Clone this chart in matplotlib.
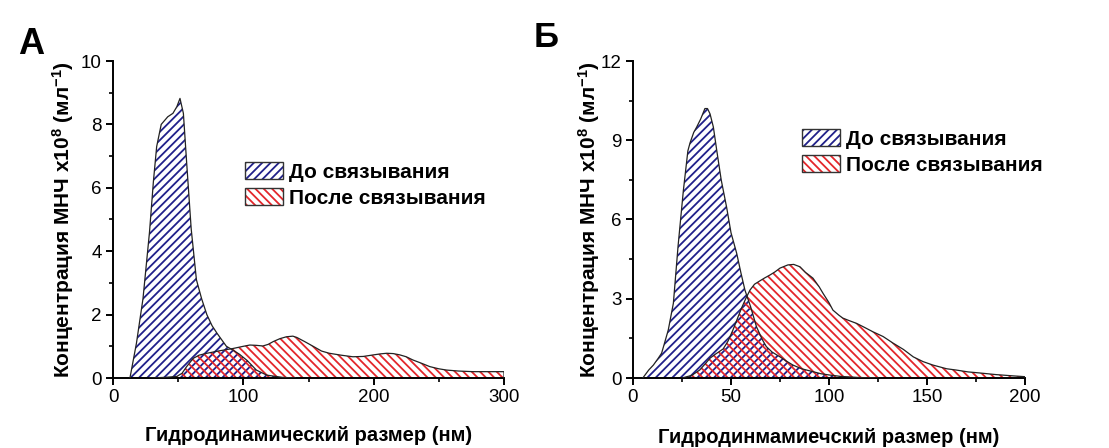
import matplotlib
matplotlib.use('Agg')
import matplotlib.pyplot as plt
import numpy as np
from matplotlib.patches import Patch
from matplotlib.legend_handler import HandlerTuple

plt.rcParams['font.family'] = ['Liberation Sans', 'DejaVu Sans']
plt.rcParams['mathtext.fontset'] = 'custom'
plt.rcParams['mathtext.rm'] = 'Liberation Sans:bold'
plt.rcParams['mathtext.bf'] = 'Liberation Sans:bold'
plt.rcParams['mathtext.it'] = 'Liberation Sans:bold'
plt.rcParams['hatch.linewidth'] = 1.3

# --- Panel A data (size, nm -> concentration x1e8 / ml)
a_before_x = [13, 18, 23, 28, 31, 33.5, 37, 42, 46, 49, 51.4, 54, 56.5, 60, 64, 68, 72, 76, 80,
              87, 92, 97, 103, 110, 118, 130, 140]
a_before_y = [0, 1.1, 2.5, 4.6, 6.2, 7.3, 8.0, 8.24, 8.35, 8.56, 8.82, 8.35, 6.8, 4.7, 3.1, 2.5,
              2.0, 1.65, 1.4, 1.0, 0.88, 0.75, 0.55, 0.25, 0.09, 0.02, 0]
a_after_x = [28, 40, 49, 53, 56.5, 61.6, 66, 72, 82, 92, 100, 105, 110, 115, 119, 123, 128, 133,
             138, 141, 147, 154, 160, 166, 175, 184, 192, 200, 205, 210, 215, 220, 225, 230, 237,
             243, 250, 256, 265, 276, 288, 300]
a_after_y = [0, 0.02, 0.05, 0.15, 0.36, 0.62, 0.72, 0.78, 0.86, 0.93, 1.0, 1.04, 1.03, 1.01, 1.06,
             1.15, 1.24, 1.3, 1.32, 1.28, 1.15, 0.99, 0.85, 0.78, 0.72, 0.67, 0.68, 0.73, 0.76,
             0.78, 0.77, 0.73, 0.67, 0.57, 0.46, 0.36, 0.29, 0.25, 0.22, 0.2, 0.2, 0.2]

# --- Panel B data
b_before_x = [5, 8, 10.4, 12.9, 14.6, 16, 18, 20.6, 23, 25.7, 28, 29.1, 31, 32.5, 34.5, 36.7, 38,
              39.3, 41, 42.7, 45, 47.8, 50, 52.9, 55, 57.1, 60, 63, 66, 68, 71, 75, 78, 81.6, 86,
              91.8, 96, 100.5, 106, 115, 125]
b_before_y = [0, 0.3, 0.49, 0.75, 0.94, 1.3, 1.82, 2.83, 5.0, 7.1, 8.6, 8.9, 9.3, 9.5, 9.8, 10.2,
              10.2, 10.0, 9.5, 8.63, 7.5, 6.45, 5.5, 4.72, 4.0, 3.33, 2.7, 1.94, 1.45, 1.19, 0.98,
              0.8, 0.65, 0.49, 0.35, 0.24, 0.16, 0.11, 0.06, 0.02, 0]
b_after_x = [25, 30, 34, 37.6, 39.3, 42, 46, 48.5, 51, 53, 55.4, 57.5, 59.7, 62, 64.8, 67, 69.9,
             72.5, 75, 79, 82, 85.2, 88, 91.8, 95, 97, 100, 102, 105, 107, 110, 114, 118, 122.4,
             127.6, 132.7, 138, 143, 148, 153, 160, 165, 171, 177, 185, 194, 200]
b_after_y = [0, 0.1, 0.3, 0.6, 0.75, 0.9, 1.1, 1.4, 1.82, 2.2, 2.65, 3.0, 3.33, 3.55, 3.68, 3.78,
             3.9, 4.02, 4.16, 4.28, 4.3, 4.21, 4.0, 3.78, 3.45, 3.2, 2.85, 2.57, 2.38, 2.27, 2.18,
             2.07, 1.92, 1.75, 1.57, 1.32, 1.08, 0.8, 0.62, 0.49, 0.35, 0.3, 0.23, 0.19, 0.13,
             0.08, 0.05]

labels = ['До связывания', 'После связывания']
ylabel = 'Концентрация МНЧ x10$^{8}$ (мл$^{-1}$)'
xlabels = ['Гидродинамический размер (нм)', 'Гидродинмамиечский размер (нм)']

blue = '#20208a'
red = '#e3262b'

fig = plt.figure(figsize=(11.09, 4.48), dpi=100)
W, H = 1109, 448


def draw_area(ax, x, y, color, hatch):
    x = np.asarray(x, float)
    y = np.asarray(y, float)
    ax.fill_between(x, 0, y, facecolor='none', edgecolor=color, hatch=hatch, linewidth=0, zorder=2)
    ax.plot(np.r_[x, x[-1]], np.r_[y, 0], color='#222222', lw=0.9, zorder=3)


def setup(ax, xmax, ymax, xmaj, xmin, ymaj, ymin):
    ax.set_xlim(0, xmax)
    ax.set_ylim(0, ymax)
    ax.set_xticks(np.arange(0, xmax + 1, xmaj))
    ax.set_xticks(np.arange(xmin, xmax, xmaj), minor=True)
    ax.set_yticks(np.arange(0, ymax + 0.01, ymaj))
    ax.set_yticks(np.arange(ymin, ymax, ymaj), minor=True)
    for s in ['top', 'right']:
        ax.spines[s].set_visible(False)
    for s in ['left', 'bottom']:
        ax.spines[s].set_linewidth(1.4)
    ax.tick_params(which='major', direction='out', length=5, width=1.4, labelsize=13.5, pad=3)
    ax.tick_params(which='minor', direction='out', length=3, width=1.2)
    ax.set_ylabel(ylabel, fontsize=15, fontweight='bold')


def add_legend(ax, x0, y0):
    h1 = (Patch(facecolor='none', edgecolor=blue, hatch='////', lw=0),
          Patch(facecolor='none', edgecolor='#333333', lw=1.0))
    h2 = (Patch(facecolor='none', edgecolor=red, hatch='\\\\\\\\', lw=0),
          Patch(facecolor='none', edgecolor='#333333', lw=1.0))
    ax.legend([h1, h2], labels, handler_map={tuple: HandlerTuple(ndivide=1, pad=0)},
              loc='upper left', bbox_to_anchor=(x0 / W, 1 - y0 / H), bbox_transform=fig.transFigure,
              frameon=False, borderpad=0, borderaxespad=0, handlelength=1.8, handleheight=0.9,
              labelspacing=0.3, handletextpad=0.3,
              prop={'size': 15, 'weight': 'bold'})


# Panel A
axA = fig.add_axes([113 / W, 1 - 378 / H, 391 / W, 317 / H])
draw_area(axA, a_before_x, a_before_y, blue, '////')
draw_area(axA, a_after_x, a_after_y, red, '\\\\\\\\')
setup(axA, 300, 10, 100, 50, 2, 1)
axA.yaxis.set_label_coords(-0.095, 0.5)
axA.set_xlabel(xlabels[0], fontsize=14.5, fontweight='bold')
axA.xaxis.set_label_coords(0.5, -0.152)
add_legend(axA, 245, 162)
fig.text(18 / W, 1 - 54 / H, 'А', fontsize=26, fontweight='bold', ha='left', va='baseline')

# Panel B
axB = fig.add_axes([633 / W, 1 - 378 / H, 392 / W, 317 / H])
draw_area(axB, b_before_x, b_before_y, blue, '////')
draw_area(axB, b_after_x, b_after_y, red, '\\\\\\\\')
setup(axB, 200, 12, 50, 25, 3, 1.5)
axB.yaxis.set_label_coords(-0.08, 0.5)
axB.set_xlabel(xlabels[1], fontsize=14.5, fontweight='bold')
axB.xaxis.set_label_coords(0.5, -0.158)
add_legend(axB, 802, 129)
fig.text(534 / W, 1 - 47 / H, 'Б', fontsize=25, fontweight='bold', ha='left', va='baseline')

fig.savefig('out.png', dpi=100, facecolor='white')
